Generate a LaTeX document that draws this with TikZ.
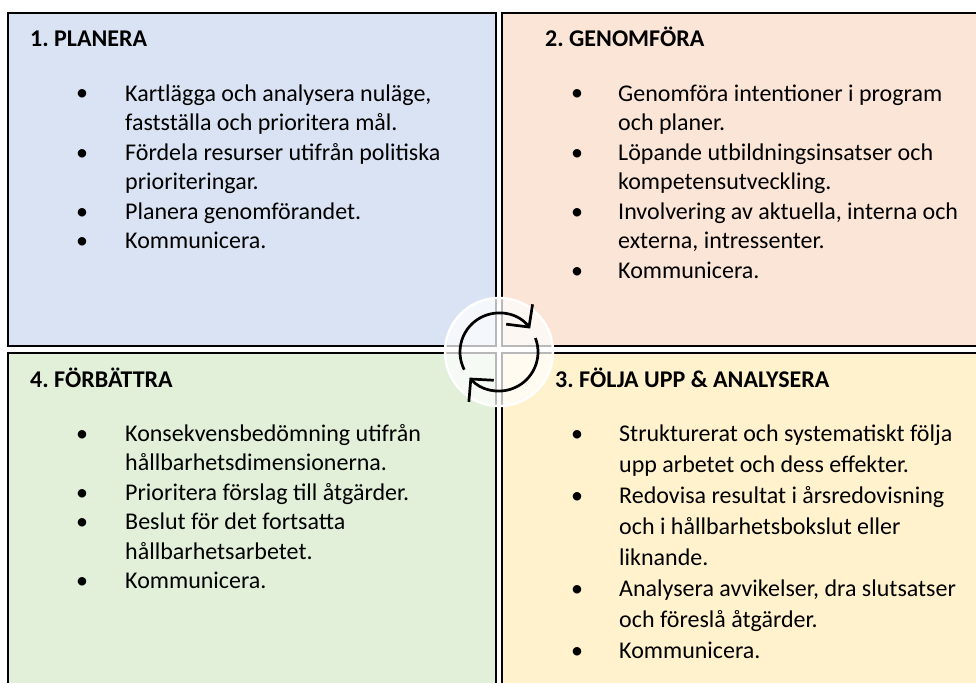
\documentclass[tikz,border=0pt]{standalone}
\usepackage{fontspec}
\setmainfont{Carlito}
\usetikzlibrary{arrows.meta}
\frenchspacing

\definecolor{planfill}{HTML}{DAE3F3}
\definecolor{dofill}{HTML}{FBE5D6}
\definecolor{checkfill}{HTML}{FFF2CC}
\definecolor{actfill}{HTML}{E2F0D9}

\begin{document}
\begin{tikzpicture}[x=1pt,y=-1pt,
  quad/.style={draw=black,line width=2pt},
  head/.style={anchor=base west,inner sep=0pt,font=\fontsize{24}{28}\selectfont\bfseries},
  dot/.style={anchor=base,inner sep=0pt,font=\fontsize{24}{29.5}\selectfont},
  item/.style={anchor=north west,yshift=0.7*#1pt,inner sep=0pt,align=left,font=\fontsize{24}{#1}\selectfont},
  item/.default=29.5,
  hub/.style={circle,minimum size=108pt,inner sep=0pt,fill=white,fill opacity=0.72,draw=white,draw opacity=1,line width=2.5pt},
  ring/.style={line width=2.7pt,-{Straight Barb[length=16pt,width=33pt]}}
]
\useasboundingbox (0,0) rectangle (976,682);
\clip (0,0) rectangle (976,682);

% quadrants
\draw[quad,fill=planfill] (8,13) rectangle (496,346);
\draw[quad,fill=dofill] (502,13) rectangle (990,346);
\draw[quad,fill=checkfill] (502,353) rectangle (990,700);
\draw[quad,fill=actfill] (8,353) rectangle (496,700);

% 1
\node[head] (h1) at (30,47) {1. PLANERA};
\node[dot] (d1a) at (82,101) {\textbullet};
\node[item] (i1a) at (125,101) {\strut Kartlägga och analysera nuläge,\\fastställa och prioritera mål.};
\node[dot] (d1b) at (82,160) {\textbullet};
\node[item] (i1b) at (125,160) {\strut Fördela resurser utifrån politiska\\prioriteringar.};
\node[dot] (d1c) at (82,219) {\textbullet};
\node[item] (i1c) at (125,219) {\strut Planera genomförandet.};
\node[dot] (d1d) at (82,248.5) {\textbullet};
\node[item] (i1d) at (125,248.5) {\strut Kommunicera.};

% 2
\node[head] (h2) at (545,47) {2. GENOMFÖRA};
\node[dot] (d2a) at (577,101) {\textbullet};
\node[item] (i2a) at (618,101) {\strut Genomföra intentioner i program\\och planer.};
\node[dot] (d2b) at (577,160) {\textbullet};
\node[item] (i2b) at (618,160) {\strut Löpande utbildningsinsatser och\\kompetensutveckling.};
\node[dot] (d2c) at (577,219) {\textbullet};
\node[item] (i2c) at (618,219) {\strut Involvering av aktuella, interna och\\externa, intressenter.};
\node[dot] (d2d) at (577,278) {\textbullet};
\node[item] (i2d) at (618,278) {\strut Kommunicera.};

% 3
\node[head] (h3) at (555,387) {3. FÖLJA UPP \& ANALYSERA};
\node[dot] (d3a) at (577,441) {\textbullet};
\node[item=31] (i3a) at (619,441) {\strut Strukturerat och systematiskt följa\\upp arbetet och dess effekter.};
\node[dot] (d3b) at (577,503) {\textbullet};
\node[item=31] (i3b) at (619,503) {\strut Redovisa resultat i årsredovisning\\och i hållbarhetsbokslut eller\\liknande.};
\node[dot] (d3c) at (577,596) {\textbullet};
\node[item=31] (i3c) at (619,596) {\strut Analysera avvikelser, dra slutsatser\\och föreslå åtgärder.};
\node[dot] (d3d) at (577,658) {\textbullet};
\node[item=31] (i3d) at (619,658) {\strut Kommunicera.};

% 4
\node[head] (h4) at (30,387) {4. FÖRBÄTTRA};
\node[dot] (d4a) at (82,441) {\textbullet};
\node[item] (i4a) at (125,441) {\strut Konsekvensbedömning utifrån\\hållbarhetsdimensionerna.};
\node[dot] (d4b) at (82,500) {\textbullet};
\node[item] (i4b) at (125,500) {\strut Prioritera förslag till åtgärder.};
\node[dot] (d4c) at (82,529.5) {\textbullet};
\node[item] (i4c) at (125,529.5) {\strut Beslut för det fortsatta\\hållbarhetsarbetet.};
\node[dot] (d4d) at (82,588.5) {\textbullet};
\node[item] (i4d) at (125,588.5) {\strut Kommunicera.};

% cycle in the middle
\coordinate (mid) at (499,352);
\node[hub] (hub) at (mid) {};
\draw[ring] ([shift={(-207:39)}]mid) arc[start angle=-207,end angle=-37,radius=39];
\draw[ring] ([shift={(-21:39)}]mid) arc[start angle=-21,end angle=139,radius=39];

\end{tikzpicture}
\end{document}
